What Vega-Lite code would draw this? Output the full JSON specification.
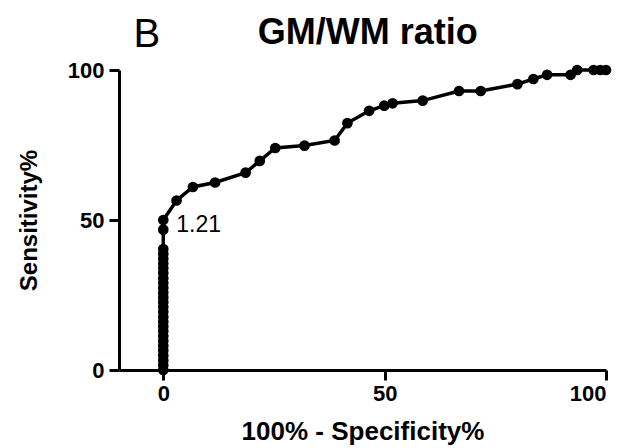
{
  "$schema": "https://vega.github.io/schema/vega-lite/v6.json",
  "width": 487,
  "height": 300,
  "autosize": "none",
  "padding": {"left": 119, "top": 70, "right": 28, "bottom": 78},
  "background": "white",
  "config": {
    "view": {"stroke": null},
    "axis": {
      "domainColor": "black",
      "domainWidth": 3,
      "tickColor": "black",
      "tickWidth": 3,
      "tickSize": 10,
      "grid": false,
      "labelFont": "Liberation Sans",
      "labelFontSize": 22,
      "labelFontWeight": "bold",
      "labelColor": "black",
      "titleFont": "Liberation Sans",
      "titleFontWeight": "bold",
      "titleColor": "black"
    }
  },
  "layer": [
    {
      "data": {
        "values": [
          {"i": 0, "fpr": 0, "sens": 0},
          {"i": 1, "fpr": 0, "sens": 1.6},
          {"i": 2, "fpr": 0, "sens": 3.2},
          {"i": 3, "fpr": 0, "sens": 4.8},
          {"i": 4, "fpr": 0, "sens": 6.5},
          {"i": 5, "fpr": 0, "sens": 8.1},
          {"i": 6, "fpr": 0, "sens": 9.7},
          {"i": 7, "fpr": 0, "sens": 11.3},
          {"i": 8, "fpr": 0, "sens": 12.9},
          {"i": 9, "fpr": 0, "sens": 14.5},
          {"i": 10, "fpr": 0, "sens": 16.1},
          {"i": 11, "fpr": 0, "sens": 17.7},
          {"i": 12, "fpr": 0, "sens": 19.4},
          {"i": 13, "fpr": 0, "sens": 21.0},
          {"i": 14, "fpr": 0, "sens": 22.6},
          {"i": 15, "fpr": 0, "sens": 24.2},
          {"i": 16, "fpr": 0, "sens": 25.8},
          {"i": 17, "fpr": 0, "sens": 27.4},
          {"i": 18, "fpr": 0, "sens": 29.0},
          {"i": 19, "fpr": 0, "sens": 30.6},
          {"i": 20, "fpr": 0, "sens": 32.3},
          {"i": 21, "fpr": 0, "sens": 33.9},
          {"i": 22, "fpr": 0, "sens": 35.5},
          {"i": 23, "fpr": 0, "sens": 37.1},
          {"i": 24, "fpr": 0, "sens": 38.7},
          {"i": 25, "fpr": 0, "sens": 40.3},
          {"i": 26, "fpr": 0, "sens": 46.8},
          {"i": 27, "fpr": 0, "sens": 50.0},
          {"i": 28, "fpr": 3.0, "sens": 56.5},
          {"i": 29, "fpr": 6.7, "sens": 61.0},
          {"i": 30, "fpr": 11.7, "sens": 62.5},
          {"i": 31, "fpr": 18.6, "sens": 65.8},
          {"i": 32, "fpr": 21.8, "sens": 69.7},
          {"i": 33, "fpr": 25.3, "sens": 74.0},
          {"i": 34, "fpr": 31.9, "sens": 74.8},
          {"i": 35, "fpr": 38.7, "sens": 76.5},
          {"i": 36, "fpr": 41.6, "sens": 82.3},
          {"i": 37, "fpr": 46.5, "sens": 86.4},
          {"i": 38, "fpr": 49.9, "sens": 88.1},
          {"i": 39, "fpr": 51.8, "sens": 88.9},
          {"i": 40, "fpr": 58.6, "sens": 89.8},
          {"i": 41, "fpr": 66.8, "sens": 93.0},
          {"i": 42, "fpr": 71.7, "sens": 93.0},
          {"i": 43, "fpr": 80.0, "sens": 95.3},
          {"i": 44, "fpr": 83.6, "sens": 97.0},
          {"i": 45, "fpr": 86.7, "sens": 98.4},
          {"i": 46, "fpr": 92.0, "sens": 98.4},
          {"i": 47, "fpr": 93.5, "sens": 100},
          {"i": 48, "fpr": 97.2, "sens": 100},
          {"i": 49, "fpr": 98.7, "sens": 100},
          {"i": 50, "fpr": 100, "sens": 100}
        ]
      },
      "mark": {
        "type": "line",
        "color": "black",
        "strokeWidth": 3.5,
        "clip": false,
        "point": {"filled": true, "size": 115, "color": "black", "opacity": 1}
      },
      "encoding": {
        "x": {
          "field": "fpr",
          "type": "quantitative",
          "scale": {"domain": [-10, 100], "nice": false, "zero": false},
          "axis": {"values": [0, 50, 100], "title": "100% - Specificity%", "titleFontSize": 26, "labelPadding": 3, "titlePadding": 14}
        },
        "y": {
          "field": "sens",
          "type": "quantitative",
          "scale": {"domain": [0, 100], "nice": false},
          "axis": {"values": [0, 50, 100], "title": "Sensitivity%", "titleFontSize": 24, "labelPadding": 5, "titlePadding": 26}
        },
        "order": {"field": "i", "type": "quantitative"}
      }
    },
    {
      "data": {"values": [{"fpr": 0, "sens": 50, "label": "1.21"}]},
      "mark": {"type": "text", "align": "left", "baseline": "middle", "dx": 13, "dy": 5, "font": "Liberation Sans", "fontSize": 23, "color": "black"},
      "encoding": {
        "x": {"field": "fpr", "type": "quantitative"},
        "y": {"field": "sens", "type": "quantitative"},
        "text": {"field": "label"}
      }
    },
    {
      "data": {"values": [{"fpr": -3.7, "sens": 107.8, "label": "B"}]},
      "mark": {"type": "text", "align": "center", "baseline": "alphabetic", "font": "Liberation Sans", "fontSize": 40, "color": "black", "clip": false},
      "encoding": {
        "x": {"field": "fpr", "type": "quantitative"},
        "y": {"field": "sens", "type": "quantitative"},
        "text": {"field": "label"}
      }
    },
    {
      "data": {"values": [{"fpr": 46.2, "sens": 108.6, "label": "GM/WM ratio"}]},
      "mark": {"type": "text", "align": "center", "baseline": "alphabetic", "font": "Liberation Sans", "fontSize": 36, "fontWeight": "bold", "color": "black", "clip": false},
      "encoding": {
        "x": {"field": "fpr", "type": "quantitative"},
        "y": {"field": "sens", "type": "quantitative"},
        "text": {"field": "label"}
      }
    }
  ]
}
